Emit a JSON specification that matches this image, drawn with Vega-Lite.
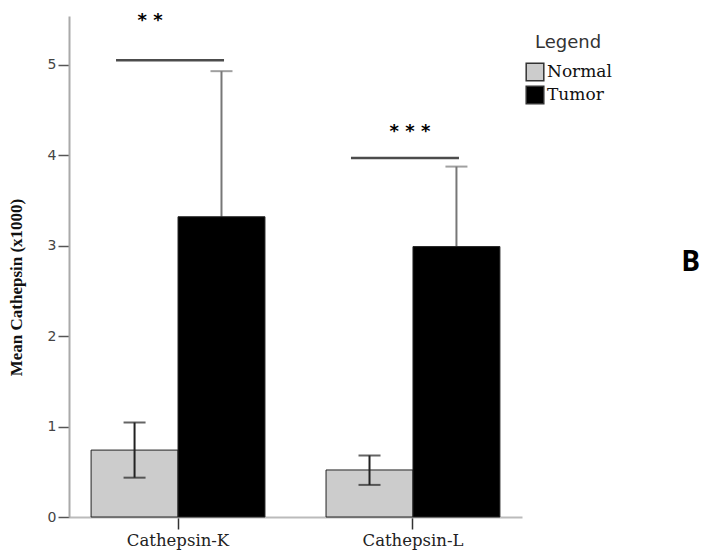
{
  "$schema": "https://vega.github.io/schema/vega-lite/v6.json",
  "width": 453,
  "height": 501,
  "autosize": {"type": "none"},
  "padding": {"left": 69, "top": 16, "right": 180, "bottom": 39},
  "background": "white",
  "config": {"view": {"stroke": null}, "axis": {"grid": false}},
  "title": {
    "text": "B",
    "orient": "top",
    "anchor": "end",
    "frame": "group",
    "offset": 0,
    "dx": 178,
    "dy": 287,
    "baseline": "alphabetic",
    "font": "Open Sans",
    "fontWeight": "bold",
    "fontSize": 28,
    "color": "#000000"
  },
  "datasets": {
    "means": [
      {"cathepsin": "Cathepsin-K", "group": "Normal", "mean": 0.74, "lower": 0.435, "upper": 1.045},
      {"cathepsin": "Cathepsin-K", "group": "Tumor", "mean": 3.32, "lower": 1.71, "upper": 4.93},
      {"cathepsin": "Cathepsin-L", "group": "Normal", "mean": 0.52, "lower": 0.355, "upper": 0.68},
      {"cathepsin": "Cathepsin-L", "group": "Tumor", "mean": 2.99, "lower": 2.105, "upper": 3.875}
    ],
    "significance": [
      {"cathepsin": "Cathepsin-K", "bracket": 5.05, "stars": "* *", "starLevel": 5.49},
      {"cathepsin": "Cathepsin-L", "bracket": 3.97, "stars": "* * *", "starLevel": 4.26}
    ]
  },
  "encoding": {
    "x": {
      "field": "cathepsin",
      "type": "nominal",
      "scale": {"paddingInner": 0.26, "paddingOuter": 0.094},
      "axis": {
        "title": null,
        "labelAngle": 0,
        "labelFont": "DejaVu Serif",
        "labelFontSize": 16.5,
        "labelColor": "#222222",
        "labelPadding": 3,
        "domainColor": "#bbbbbb",
        "domainWidth": 2,
        "tickColor": "#333333",
        "tickSize": 12,
        "tickWidth": 1.5
      }
    }
  },
  "layer": [
    {
      "data": {"name": "means"},
      "transform": [{"filter": "datum.group === 'Tumor'"}],
      "mark": {"type": "rule", "color": "#777777", "strokeWidth": 2},
      "encoding": {
        "xOffset": {"field": "group", "type": "nominal", "scale": {"domain": ["Normal", "Tumor"], "paddingInner": 0, "paddingOuter": 0}},
        "y": {"field": "mean", "type": "quantitative"},
        "y2": {"field": "upper"}
      }
    },
    {
      "data": {"name": "means"},
      "transform": [{"filter": "datum.group === 'Tumor'"}],
      "mark": {"type": "tick", "color": "#777777", "size": 22, "thickness": 2, "orient": "horizontal"},
      "encoding": {
        "xOffset": {"field": "group", "type": "nominal"},
        "y": {"field": "upper", "type": "quantitative"}
      }
    },
    {
      "data": {"name": "means"},
      "mark": {"type": "bar", "stroke": "#222222", "strokeWidth": 1},
      "encoding": {
        "xOffset": {"field": "group", "type": "nominal"},
        "y": {
          "field": "mean",
          "type": "quantitative",
          "scale": {"domain": [0, 5.54], "nice": false, "zero": true},
          "axis": {
            "title": "Mean Cathepsin (x1000)",
            "titleFont": "Liberation Serif",
            "titleFontSize": 17,
            "titleFontWeight": "bold",
            "titleColor": "#111111",
            "titleAngle": -90,
            "titleAlign": "center",
            "titleBaseline": "bottom",
            "titleX": -44,
            "titleY": 271,
            "values": [0, 1, 2, 3, 4, 5],
            "format": "d",
            "labelFont": "DejaVu Sans",
            "labelFontSize": 14,
            "labelColor": "#444444",
            "labelPadding": 2,
            "domainColor": "#aaaaaa",
            "domainWidth": 2,
            "tickColor": "#555555",
            "tickSize": 11,
            "tickWidth": 1.5
          }
        },
        "fill": {
          "field": "group",
          "type": "nominal",
          "scale": {"domain": ["Normal", "Tumor"], "range": ["#cccccc", "#000000"]},
          "legend": {
            "orient": "none",
            "legendX": 456,
            "legendY": 18,
            "title": "Legend",
            "titleFont": "DejaVu Sans",
            "titleFontSize": 18,
            "titleFontWeight": "normal",
            "titleColor": "#333333",
            "titleAnchor": "middle",
            "titlePadding": 10,
            "labelFont": "DejaVu Serif",
            "labelFontSize": 17,
            "labelColor": "#111111",
            "labelOffset": 2,
            "symbolType": "square",
            "symbolSize": 310,
            "symbolStrokeColor": "#333333",
            "symbolStrokeWidth": 1.5,
            "rowPadding": -1
          }
        }
      }
    },
    {
      "data": {"name": "means"},
      "transform": [{"filter": "datum.group === 'Normal'"}],
      "mark": {"type": "rule", "color": "#222222", "strokeWidth": 2},
      "encoding": {
        "xOffset": {"field": "group", "type": "nominal"},
        "y": {"field": "lower", "type": "quantitative"},
        "y2": {"field": "upper"}
      }
    },
    {
      "data": {"name": "means"},
      "transform": [{"filter": "datum.group === 'Normal'"}],
      "mark": {"type": "tick", "color": "#222222", "size": 22, "thickness": 2, "orient": "horizontal"},
      "encoding": {
        "xOffset": {"field": "group", "type": "nominal"},
        "y": {"field": "upper", "type": "quantitative"}
      }
    },
    {
      "data": {"name": "means"},
      "transform": [{"filter": "datum.group === 'Normal'"}],
      "mark": {"type": "tick", "color": "#222222", "size": 22, "thickness": 2, "orient": "horizontal"},
      "encoding": {
        "xOffset": {"field": "group", "type": "nominal"},
        "y": {"field": "lower", "type": "quantitative"}
      }
    },
    {
      "data": {"name": "significance"},
      "mark": {"type": "tick", "color": "#000000", "size": 108, "thickness": 2.5, "orient": "horizontal", "xOffset": -8},
      "encoding": {
        "y": {"field": "bracket", "type": "quantitative"}
      }
    },
    {
      "data": {"name": "significance"},
      "mark": {
        "type": "text",
        "font": "DejaVu Sans",
        "fontWeight": "bold",
        "fontSize": 18,
        "color": "#000000",
        "align": "center",
        "baseline": "middle",
        "dx": {"expr": "datum.cathepsin === 'Cathepsin-K' ? -28 : -3"}
      },
      "encoding": {
        "y": {"field": "starLevel", "type": "quantitative"},
        "text": {"field": "stars"}
      }
    }
  ]
}
